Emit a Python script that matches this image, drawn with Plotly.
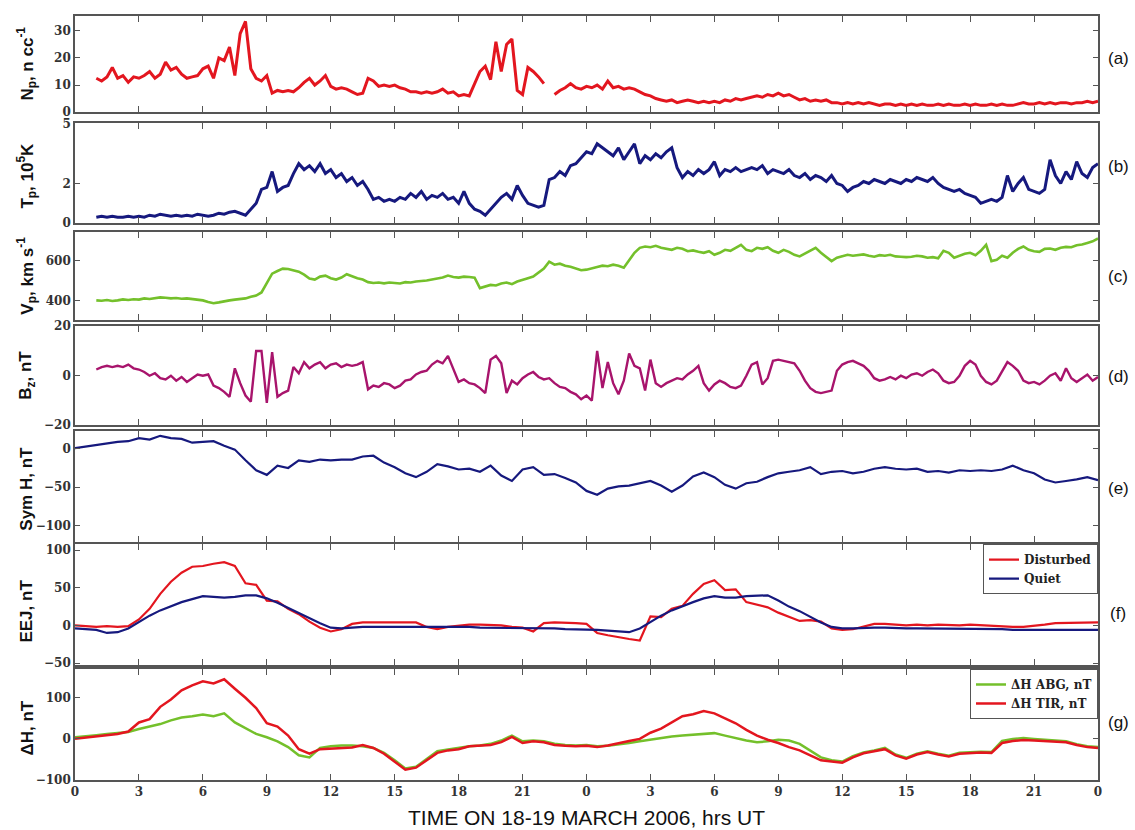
import numpy as np
import plotly.graph_objects as go

# ---------------- data (hours from 00 UT 18 March 2006) ----------------
NP_START, NP_STEP = 1.0, 0.25
NP = [12.5, 11.5, 13, 16.5, 12.5, 13.5, 11, 13,
      12.5, 13.5, 15, 12.5, 14, 18.5, 15.5, 16.5,
      14, 12.5, 13, 13.5, 16, 17, 12.5, 20,
      19, 24, 13.5, 29, 33.5, 16, 12.5, 11.5,
      13.5, 7, 8, 7.5, 8, 7.5, 9, 11,
      12.5, 10, 11.5, 13.5, 9.5, 8.5, 9, 8.5,
      7.5, 6.5, 7, 12.5, 11.5, 9.5, 10, 9.5,
      10, 9, 8.5, 7.5, 7.5, 7, 7.5, 7,
      7.5, 8.5, 7, 7.5, 6, 6.5, 6, 10.5,
      15, 17, 12, 26, 15, 25, 27, 8,
      6.5, 16.5, 15, 13, 10.5, None, 6.5, 8,
      9, 10.5, 9, 8.5, 9.5, 9, 10, 8.5,
      11.5, 9, 9.5, 8.5, 9, 8.5, 7.5, 6.5,
      6, 5, 4.5, 4, 4.5, 3.5, 4, 4.5,
      4, 3.5, 4, 3.5, 4, 3.5, 4.5, 4,
      5, 4.5, 5, 5.5, 6, 5.5, 6.5, 6,
      7, 6, 6.5, 5.5, 4.5, 5, 4, 4.5,
      4, 4.5, 3.5, 3.5, 3, 3.5, 3, 3.5,
      3, 3.5, 3, 2.5, 3, 3, 2.5, 3,
      2.5, 3, 2.5, 3, 2.5, 2.5, 3, 2.5,
      3, 2.5, 2.5, 3, 2.5, 3, 2.5, 2.5,
      3, 2.5, 3, 2.5, 2.5, 3, 3.5, 3,
      3, 3.5, 3, 3.5, 3, 3.5, 3.5, 3,
      3.5, 3.5, 4, 3.5, 4]

TP_START, TP_STEP = 1.0, 0.25
TP = [0.3, 0.35, 0.3, 0.35, 0.3, 0.3, 0.35, 0.3,
      0.35, 0.3, 0.4, 0.35, 0.45, 0.4, 0.35, 0.4,
      0.35, 0.4, 0.35, 0.45, 0.4, 0.35, 0.4, 0.5,
      0.45, 0.55, 0.6, 0.5, 0.4, 0.7, 1.0, 1.7,
      1.8, 2.6, 1.6, 1.8, 1.9, 2.5, 3.0, 2.7,
      2.9, 2.6, 3.0, 2.5, 2.7, 2.3, 2.5, 2.1,
      2.3, 1.9, 2.1, 1.7, 1.2, 1.3, 1.1, 1.2,
      1.1, 1.3, 1.2, 1.5, 1.3, 1.6, 1.2, 1.4,
      1.3, 1.5, 1.2, 1.3, 1.0, 1.6, 1.0, 0.7,
      0.6, 0.4, 0.7, 1.0, 1.3, 1.5, 1.2, 1.9,
      1.4, 1.0, 0.9, 0.8, 0.9, 2.2, 2.3, 2.6,
      2.4, 2.9, 3.0, 3.3, 3.6, 3.5, 4.0, 3.8,
      3.6, 3.4, 3.8, 3.2, 3.6, 4.0, 3.0, 3.4,
      3.2, 3.5, 3.3, 3.6, 3.8, 2.8, 2.3, 2.6,
      2.4, 2.7, 2.5, 2.7, 3.1, 2.4, 2.7, 2.6,
      2.8, 2.6, 2.7, 2.8, 2.7, 2.9, 2.5, 2.7,
      2.6, 2.5, 2.7, 2.4, 2.3, 2.5, 2.2, 2.4,
      2.3, 2.1, 2.4, 2.0, 1.9, 1.6, 1.8, 1.9,
      2.1, 2.0, 2.2, 2.1, 2.0, 2.2, 2.1, 2.0,
      2.2, 2.1, 2.3, 2.2, 2.1, 2.3, 2.0, 1.8,
      1.7, 1.6, 1.7, 1.5, 1.4, 1.3, 1.0, 1.1,
      1.2, 1.1, 1.3, 2.4, 1.6, 2.0, 2.3, 1.7,
      1.6, 1.5, 1.7, 3.2, 2.4, 2.0, 2.6, 2.2,
      3.1, 2.5, 2.3, 2.8, 3.0]

VP_START, VP_STEP = 1.0, 0.25
VP = [400, 398, 402, 397, 400, 405, 402, 406,
      404, 410, 407, 412, 415, 413, 410, 412,
      408, 410, 406, 404, 400, 392, 386, 390,
      396, 400, 404, 408, 410, 418, 424, 440,
      490, 535, 548, 560, 558, 552, 545, 530,
      510, 505, 520, 525, 512, 505, 515, 532,
      520, 512, 505, 492, 488, 490, 486, 490,
      488, 485, 492, 490, 495, 497, 500, 505,
      510, 515, 525, 518, 515, 520, 518, 515,
      462, 470, 478, 475, 485, 490, 482, 495,
      505, 512, 520, 540, 560, 595, 580, 585,
      575, 570, 560, 552, 555, 560, 568, 575,
      572, 580, 575, 565, 600, 640, 665, 672,
      668, 675, 665, 660, 655, 665, 660, 648,
      652, 645, 640, 648, 630, 640, 655, 650,
      665, 680, 655, 648, 665, 660, 668, 650,
      640, 655, 645, 630, 622, 635, 650, 665,
      640, 620, 598, 615, 622, 630, 625, 628,
      632, 625, 620, 628, 625, 630, 622, 620,
      618, 620, 625, 622, 615, 618, 612, 650,
      640, 615, 625, 635, 640, 628, 650, 680,
      598, 605, 625, 615, 640, 660, 672, 655,
      648, 645, 660, 662, 655, 665, 670, 668,
      678, 682, 690, 698, 712]

BZ_START, BZ_STEP = 1.0, 0.25
BZ = [2.5, 3.5, 4, 3.5, 4, 3.5, 4.5, 3,
      2.5, 1.5, 0, 1, -1, -1.5, 0, -2,
      -0.5, -2.5, -1, 0.5, 0, 0.5, -4, -5,
      -6.5, -8.5, 3, -3, -8, -10.5, 10, 10,
      -11, 9.5, -8.5, -7, -6, 3.5, 1, 5.5,
      3, 4.5, 5.5, 3, 4.5, 5, 3.5, 4.5,
      4, 4.5, 5.5, -5.5, -4, -4.5, -3, -3.5,
      -5, -4, -2, -1.5, 0.5, 1.5, 2, 4.5,
      6, 5, 8, 3, -2.5, -1.5, -3, -3.5,
      -5, -7, 6.5, 8, 5, -7, -2, -3.5,
      -1, 0.5, 1.5, -0.5, -1.5, -1, -3, -4.5,
      -5, -6.5, -7.5, -9.5, -8, -10, 10, -5,
      5.5, -3, -7.5, -2, 9, 4, 3, -6,
      6.5, -3, -4.5, -3, -2, -1, -1.5, 0.5,
      2, 4, -3, -6, -3.5, -2, -3, -4.5,
      -5, -4, 0, 4.5, 5.5, -3.5, -1, 6,
      6.5, 6, 5.5, 5, 2, -2, -5, -6.5,
      -7, -6.5, -6, 2, 4.5, 5.5, 6, 5,
      4, 2, -1, -2, -1.5, -0.5, -1.5, 0,
      -1, 0.5, 1, 0, 1.5, 2.5, 1, -2,
      -3, -2.5, 0, 4, 6, 4.5, 0, -2.5,
      -3.5, -2, 2, 5.5, 4, 2, -2, -3,
      -2.5, -3.5, -2, 0, 1, -2, 3, -1,
      -2.5, -1, 0.5, -2, -0.5]

HALF_START, HALF_STEP = 0.0, 0.5
SYMH = [1, 3, 5.5, 7, 9, 10, 14, 12,
        17, 14, 13, 8, 9, 10, 4, -1,
        -15, -28, -34, -22, -25, -15, -17, -14,
        -15, -14, -14, -10, -9, -18, -24, -32,
        -37, -30, -20, -23, -27, -26, -30, -22,
        -35, -42, -27, -24, -34, -33, -38, -44,
        -55, -60, -52, -49, -48, -45, -42, -48,
        -56, -48, -36, -31, -37, -47, -52, -45,
        -43, -37, -32, -30, -28, -24, -33, -30,
        -29, -32, -30, -26, -24, -26, -27, -26,
        -30, -29, -31, -28, -29, -28, -29, -27,
        -22, -28, -32, -40, -44, -42, -40, -37,
        -41]

EEJ_DISTURBED = [0, -1, -2, -1, -2, -1, 8, 22,
                 42, 58, 70, 78, 79, 82, 84, 79,
                 56, 54, 33, 32, 22, 15, 5, -3,
                 -8, -5, 2, 4, 4, 3, 4, 4,
                 4, -2, -5, -2, 0, 1, 1, 1,
                 0, -2, -3, -8, 3, 4, 4, 3,
                 2, -10, -13, -16, -18, -20, 12, 11,
                 22, 26, 42, 55, 60, 47, 48, 31,
                 28, 24, 17, 12, 6, 7, 5, -4,
                 -6, -5, -1, 2, 2, 1, 0, 1,
                 0, 1, 0, 0, 1, 0, -1, -2,
                 -2, -2, -1, 1, 3, 3, 4, 4,
                 4]
EEJ_QUIET = [-4, -5, -6, -10, -9, -4, 5, 13,
             20, 26, 31, 35, 39, 38, 37, 38,
             40, 40, 36, 30, 23, 16, 9, 3,
             -3, -4, -3, -2, -2, -2, -2, -2,
             -2, -2, -2, -2, -2, -2, -3, -3,
             -3, -4, -4, -3, -3, -4, -5, -5,
             -6, -6, -7, -8, -9, -4, 5, 13,
             20, 26, 31, 36, 39, 37, 37, 39,
             40, 40, 33, 25, 19, 11, 4, -2,
             -4, -4, -3, -3, -3, -4, -4, -4,
             -4, -4, -5, -5, -5, -5, -5, -5,
             -6, -6, -6, -6, -6, -6, -6, -6,
             -6]

DH_ABG = [4, 6, 9, 12, 14, 17, 24, 30,
          36, 45, 52, 55, 59, 55, 62, 40,
          26, 12, 4, -6, -20, -40, -45, -22,
          -18, -16, -16, -18, -22, -34, -52, -72,
          -68, -50, -30, -26, -22, -18, -16, -12,
          -4, 8, -6, -4, -6, -12, -15, -16,
          -15, -18, -17, -14, -10, -6, -2, 2,
          6, 8, 10, 12, 14, 8, 2, -4,
          -8, -6, -2, -4, -12, -28, -45, -52,
          -55, -42, -33, -28, -22, -38, -46, -36,
          -30, -36, -41, -34, -32, -31, -32, -5,
          0, 2, 0, -2, -4, -6, -13, -18,
          -20]
DH_TIR = [0, 3, 6, 9, 12, 18, 40, 48,
          78, 96, 118, 130, 140, 135, 145, 122,
          100, 75, 38, 30, 8, -25, -36, -25,
          -24, -22, -21, -15, -22, -36, -55, -75,
          -70, -52, -34, -28, -25, -18, -17, -15,
          -8, 5, -10, -6, -8, -15, -17, -18,
          -17, -20, -16, -10, -5, 0, 15, 25,
          40, 55, 60, 68, 62, 50, 38, 22,
          8, -2, -10, -20, -28, -40, -52, -55,
          -58, -45, -35, -30, -25, -40, -48, -38,
          -32, -38, -43, -36, -34, -33, -34, -10,
          -5, -3, -4, -5, -6, -8, -15, -20,
          -22]

X_TICKS = list(range(0, 49, 3))
X_TICKTEXT = ["0", "3", "6", "9", "12", "15", "18", "21",
              "0", "3", "6", "9", "12", "15", "18", "21", "0"]


def times(start, step, vals):
    return [start + step * i for i in range(len(vals))]


# ---------------- styling ----------------
RED = "#e3161f"
NAVY = "#16197e"
GREEN = "#74c02b"
MAGENTA = "#a8146c"
FRAME = "#555555"
TICKFONT = dict(family="DejaVu Serif", size=12, color="#333333", weight="bold")

PANELS = [
    dict(domain=[0.8742, 1.0], range=[0, 35.5], ticks=[0, 10, 20, 30]),
    dict(domain=[0.7289, 0.8599], range=[0, 5.05], ticks=[0, 2, 5]),
    dict(domain=[0.6018, 0.7173], range=[300, 745], ticks=[400, 600]),
    dict(domain=[0.4643, 0.5940], range=[-20, 20], ticks=[-20, 0, 20]),
    dict(domain=[0.3113, 0.4565], range=[-122, 23], ticks=[-100, -50, 0]),
    dict(domain=[0.1505, 0.3087], range=[-52.6, 108], ticks=[-50, 0, 50, 100]),
    dict(domain=[0.0, 0.1453], range=[-100, 170], ticks=[-100, 0, 100]),
]

fig = go.Figure()


def add(i, x, y, color, width, name=None, legend=None):
    fig.add_trace(go.Scatter(
        x=x, y=y, mode="lines", line=dict(color=color, width=width),
        xaxis="x" if i == 1 else f"x{i}", yaxis="y" if i == 1 else f"y{i}",
        name=name, showlegend=legend is not None, legend=legend or "legend",
        connectgaps=False, hoverinfo="skip"))


add(1, times(NP_START, NP_STEP, NP), NP, RED, 3)
add(2, times(TP_START, TP_STEP, TP), TP, NAVY, 3)
add(3, times(VP_START, VP_STEP, VP), VP, GREEN, 2.6)
add(4, times(BZ_START, BZ_STEP, BZ), BZ, MAGENTA, 2.4)
add(5, times(HALF_START, HALF_STEP, SYMH), SYMH, NAVY, 2.2)
add(6, times(HALF_START, HALF_STEP, EEJ_DISTURBED), EEJ_DISTURBED, RED, 2.2,
    "Disturbed", "legend")
add(6, times(HALF_START, HALF_STEP, EEJ_QUIET), EEJ_QUIET, NAVY, 2.2,
    "Quiet", "legend")
add(7, times(HALF_START, HALF_STEP, DH_ABG), DH_ABG, GREEN, 2.5,
    "\u0394H ABG, nT", "legend2")
add(7, times(HALF_START, HALF_STEP, DH_TIR), DH_TIR, RED, 2.5,
    "\u0394H TIR, nT", "legend2")

layout = {}
for i, p in enumerate(PANELS, start=1):
    xname = "xaxis" if i == 1 else f"xaxis{i}"
    yname = "yaxis" if i == 1 else f"yaxis{i}"
    layout[xname] = dict(
        domain=[0, 1], anchor="y" if i == 1 else f"y{i}", range=[0, 48],
        tickvals=X_TICKS, ticktext=X_TICKTEXT, ticks="inside", ticklen=6,
        tickwidth=1.3, tickcolor=FRAME, showline=True, linecolor=FRAME,
        linewidth=1.6, mirror="ticks", showgrid=False, zeroline=False,
        showticklabels=(i == 7), tickfont=TICKFONT,
        **({} if i == 1 else {"matches": "x"}))
    layout[yname] = dict(
        domain=p["domain"], anchor="x" if i == 1 else f"x{i}",
        range=p["range"], tickvals=p["ticks"], ticks="inside", ticklen=5,
        tickwidth=1.2, tickcolor=FRAME, showline=True, linecolor=FRAME,
        linewidth=1.6, mirror="ticks", showgrid=False, zeroline=False,
        tickfont=TICKFONT)

TITLES = ["N<sub>p</sub>, n cc<sup>-1</sup>", "T<sub>p</sub>, 10<sup>5</sup>K",
          "V<sub>p</sub>, km s<sup>-1</sup>", "B<sub>z</sub>, nT", "Sym H, nT",
          "EEJ, nT", "\u0394H, nT"]
TITLE_Y = [0.9377, 0.7912, 0.6602, 0.5292, 0.3813, 0.2205, 0.0674]
LABELS = ["(a)", "(b)", "(c)", "(d)", "(e)", "(f)", "(g)"]
LABEL_Y = [0.9442, 0.8029, 0.6589, 0.5279, 0.3813, 0.2179, 0.0752]

ann = []
for t, y in zip(TITLES, TITLE_Y):
    ann.append(dict(text=t, x=-0.0469, y=y, xref="paper", yref="paper",
                    xanchor="center", yanchor="middle", textangle=-90,
                    showarrow=False,
                    font=dict(family="Liberation Sans", size=17,
                              color="#111111", weight="bold")))
for t, y in zip(LABELS, LABEL_Y):
    ann.append(dict(text=t, x=1.0196, y=y, xref="paper", yref="paper",
                    xanchor="center", yanchor="middle", showarrow=False,
                    font=dict(family="Liberation Sans", size=17, color="#111111")))
ann.append(dict(text="TIME ON 18-19 MARCH 2006, hrs UT", x=0.5, y=-0.0493,
                xref="paper", yref="paper", xanchor="center", yanchor="middle",
                showarrow=False,
                font=dict(family="Liberation Sans", size=21, color="#111111")))

LEGFONT = dict(family="DejaVu Serif", size=12, color="#222222", weight="bold")
fig.update_layout(
    **layout,
    width=1135, height=830,
    margin=dict(l=75, r=37, t=9, b=50),
    paper_bgcolor="white", plot_bgcolor="white",
    annotations=ann,
    legend=dict(x=1, xanchor="right", y=0.3087, yanchor="top",
                bgcolor="white", bordercolor=FRAME, borderwidth=1,
                font=LEGFONT, tracegroupgap=0),
    legend2=dict(x=1, xanchor="right", y=0.1453, yanchor="top",
                 bgcolor="white", bordercolor=FRAME, borderwidth=1,
                 font=LEGFONT, tracegroupgap=0),
    showlegend=True,
)

fig.write_html("out.html")
